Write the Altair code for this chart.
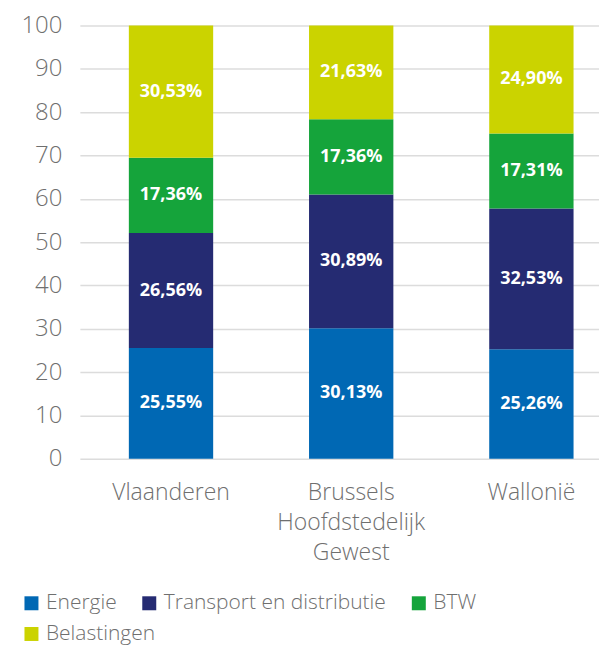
import altair as alt
import pandas as pd

regions = ["Vlaanderen", "Brussels Hoofdstedelijk Gewest", "Wallonië"]
components = ["Energie", "Transport en distributie", "BTW", "Belastingen"]
colors = ["#0068b4", "#252b72", "#15a43b", "#cbd300"]
values = {
    "Energie": [25.55, 30.13, 25.26],
    "Transport en distributie": [26.56, 30.89, 32.53],
    "BTW": [17.36, 17.36, 17.31],
    "Belastingen": [30.53, 21.63, 24.90],
}

rows = []
for ci, c in enumerate(components):
    for ri, r in enumerate(regions):
        rows.append({"regio": r, "component": c, "orde": ci, "waarde": values[c][ri]})
df = pd.DataFrame(rows)

FONT = "Open Sans"
GREY = "#6f6f6f"

base = alt.Chart(df).transform_window(
    cum="sum(waarde)", groupby=["regio"], sort=[alt.SortField("orde")]
).transform_calculate(
    start="datum.cum - datum.waarde",
    mid="datum.cum - datum.waarde / 2",
    lbl="replace(format(datum.waarde, '.2f'), '.', ',') + '%'",
)

xenc = alt.X(
    "regio:N",
    sort=regions,
    title=None,
    scale=alt.Scale(paddingInner=0.532, paddingOuter=0.2065, align=0.658),
    axis=alt.Axis(
        labelAngle=0, domain=False, ticks=False, labelFontSize=23,
        labelFont=FONT, labelFontWeight=300, labelColor=GREY, labelPadding=23,
        labelLineHeight=30, labelExpr="split(datum.label, ' ')", labelLimit=300,
    ),
)

yenc = alt.Y(
    "start:Q", title=None,
    scale=alt.Scale(domain=[0, 100], nice=False),
    axis=alt.Axis(
        values=list(range(0, 101, 10)), domain=False, ticks=False,
        gridColor="#dcdcdc", gridWidth=1.5, labelFontSize=24, labelFont=FONT,
        labelFontWeight=300, labelColor=GREY, labelPadding=18,
    ),
)

def legend(y):
    return alt.Legend(
        title=None, orient="none", legendX=-59, legendY=y,
        direction="horizontal",
        symbolType="square", symbolSize=196, symbolStrokeWidth=0,
        labelFontSize=21, labelFont=FONT, labelFontWeight=300,
        labelColor=GREY, columnPadding=22, labelOffset=4,
        labelLimit=400,
    )

first = components[:3]
bars1 = base.transform_filter(alt.datum.orde < 3).mark_bar().encode(
    x=xenc,
    y=yenc,
    y2="cum:Q",
    color=alt.Color(
        "component:N", sort=first,
        scale=alt.Scale(domain=first, range=colors[:3]),
        legend=legend(568),
    ),
)

bars2 = base.transform_filter(alt.datum.orde == 3).mark_bar().encode(
    x=xenc,
    y=yenc,
    y2="cum:Q",
    color=alt.Color(
        "component:N",
        scale=alt.Scale(domain=components[3:], range=colors[3:]),
        legend=legend(599),
    ),
)

labels = base.mark_text(
    color="white", font=FONT, fontWeight="bold", fontSize=18
).encode(
    x=alt.X("regio:N", sort=regions),
    y=alt.Y("mid:Q"),
    text="lbl:N",
)

chart = alt.layer(bars1, bars2, labels).resolve_scale(color="independent").properties(
    width=520, height=434,
    padding={"left": 12, "top": 5, "right": 0, "bottom": 0},
).configure_view(stroke=None)

chart.save("out.html", embed_options={"renderer": "svg", "actions": False})
